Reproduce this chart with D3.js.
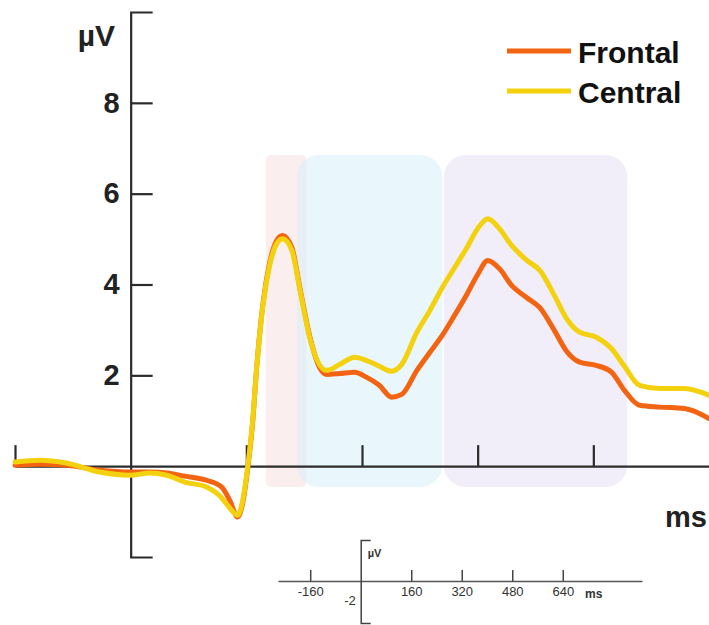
<!DOCTYPE html>
<html>
<head>
<meta charset="utf-8">
<script src="https://cdn.jsdelivr.net/npm/d3@7"></script>
<style>
  body { margin: 0; background: #fff; }
  svg { display: block; }
  text { font-family: Arial, "Liberation Sans", sans-serif; }
</style>
</head>
<body>
<svg width="709" height="625"></svg>
<script>
// ERP waveforms (ms, µV)
const times = [-160, -126, -89, -43, 0, 26, 50, 75, 105, 126, 137, 148, 155, 162, 169, 174, 183, 192, 202, 210,
  223, 234, 248, 261, 271, 289, 310, 326, 344, 361, 375, 396, 414, 431, 448, 465, 480, 494, 510, 527,
  548, 566, 586, 603, 621, 644, 665, 683, 704, 732, 766, 800];

const frontal = [0.02, 0.04, 0.02, -0.09, -0.13, -0.13, -0.15, -0.22, -0.31, -0.46, -0.75, -1.12, -0.81, -0.04, 1.01, 2.11, 3.58, 4.46, 4.97, 5.08,
  4.81, 3.93, 2.84, 2.18, 2.02, 2.04, 2.07, 1.96, 1.78, 1.52, 1.58, 2.11, 2.51, 2.88, 3.32, 3.78, 4.22, 4.53, 4.35, 3.98,
  3.71, 3.49, 2.99, 2.53, 2.29, 2.22, 2.07, 1.67, 1.34, 1.30, 1.27, 1.05];

const central = [0.09, 0.13, 0.07, -0.13, -0.20, -0.15, -0.20, -0.35, -0.46, -0.70, -0.92, -1.08, -0.75, 0.0, 1.05, 2.11, 3.54, 4.40, 4.90, 5.01,
  4.75, 3.89, 2.81, 2.24, 2.11, 2.24, 2.40, 2.33, 2.20, 2.09, 2.24, 2.95, 3.43, 3.93, 4.37, 4.81, 5.23, 5.45, 5.23, 4.86,
  4.53, 4.31, 3.76, 3.25, 2.95, 2.84, 2.59, 2.20, 1.78, 1.71, 1.71, 1.56];

const seriesNames = ["Frontal", "Central"];
const seriesColors = ["#f26411", "#f4d10f"];

const yTicks = [2, 4, 6, 8];
const xTicks = [-160, 160, 320, 480, 640];

// analysis windows (ms) and their vertical extent (µV)
const windowStart = [187, 230, 433];
const windowEnd = [243, 431, 687];
const windowTop = 6.85, windowBottom = -0.46;
const windowColors = ["#fbeeee", "#d3edf9", "#f1eef9"];
const windowOpacity = [1, 0.5, 1];
const windowRadius = [5, 22, 22];

// small reference axis under the plot
const insetTicks = [-160, 160, 320, 480, 640];
const insetYTicks = [-2];

const svg = d3.select("svg");
const plain = d => String(d);

const x = d3.scaleLinear().domain([-160, 800]).range([15, 709]);
const y = d3.scaleLinear().domain([-2, 10]).range([557, 12]);

// shaded windows
const order = [0, 2, 1];
svg.append("g")
  .selectAll("rect")
  .data(order)
  .enter().append("rect")
  .attr("x", i => x(windowStart[i]))
  .attr("width", i => x(windowEnd[i]) - x(windowStart[i]))
  .attr("y", y(windowTop))
  .attr("height", y(windowBottom) - y(windowTop))
  .attr("rx", i => windowRadius[i])
  .attr("fill", i => windowColors[i])
  .attr("fill-opacity", i => windowOpacity[i]);

// y axis with bracket ends
const yAxis = svg.append("g")
  .attr("transform", `translate(${x(0)},0)`)
  .call(d3.axisLeft(y).tickValues(yTicks).tickSizeInner(-22).tickSizeOuter(-22).tickPadding(11));
yAxis.select(".domain").attr("stroke", "#2b2b2b").attr("stroke-width", 2.2);
yAxis.selectAll(".tick line").attr("stroke", "#2b2b2b").attr("stroke-width", 2.2);
yAxis.selectAll(".tick text")
  .attr("fill", "#222")
  .style("font-size", "29px")
  .style("font-weight", "bold")
  .style("font-family", "Arial, 'Liberation Sans', sans-serif");

// x axis, ticks pointing up, no labels
const xAxis = svg.append("g")
  .attr("transform", `translate(0,${y(0)})`)
  .call(d3.axisBottom(x).tickValues(xTicks).tickSizeInner(-21).tickSizeOuter(0).tickFormat(""));
xAxis.select(".domain").attr("stroke", "#2b2b2b").attr("stroke-width", 2.2);
xAxis.selectAll(".tick line").attr("stroke", "#2b2b2b").attr("stroke-width", 2.2);

svg.append("text")
  .attr("x", 115).attr("y", 46)
  .attr("text-anchor", "end")
  .attr("fill", "#222")
  .style("font-size", "30px").style("font-weight", "bold")
  .text("µV");

svg.append("text")
  .attr("x", 707).attr("y", 527)
  .attr("text-anchor", "end")
  .attr("fill", "#222")
  .style("font-size", "29px").style("font-weight", "bold")
  .text("ms");

// waveforms
const line = d3.line()
  .x((d, i) => x(times[i]))
  .y(d => y(d))
  .curve(d3.curveMonotoneX);

svg.append("g")
  .selectAll("path")
  .data([frontal, central])
  .enter().append("path")
  .attr("d", line)
  .attr("fill", "none")
  .attr("stroke", (d, i) => seriesColors[i])
  .attr("stroke-width", 5)
  .attr("stroke-linejoin", "round")
  .attr("stroke-linecap", "round");

// legend
const legend = svg.append("g")
  .selectAll("g")
  .data(seriesNames)
  .enter().append("g")
  .attr("transform", (d, i) => `translate(507,${51 + i * 40})`);

legend.append("line")
  .attr("x1", 0).attr("x2", 64)
  .attr("stroke", (d, i) => seriesColors[i])
  .attr("stroke-width", 5);

legend.append("text")
  .attr("x", 71).attr("y", 12)
  .attr("fill", "#111")
  .style("font-size", "30px").style("font-weight", "bold")
  .text(d => d);

// inset reference axis
const ix = d3.scaleLinear().domain([-262, 891]).range([278, 642]);
const iy = d3.scaleLinear().domain([-3, 0.6]).range([623, 540]);

const insetX = svg.append("g")
  .attr("transform", "translate(0,581)")
  .call(d3.axisBottom(ix).tickValues(insetTicks).tickSizeInner(-11).tickSizeOuter(0).tickPadding(6).tickFormat(plain));
insetX.select(".domain").attr("stroke", "#555").attr("stroke-width", 1.5);
insetX.selectAll(".tick line").attr("stroke", "#444").attr("stroke-width", 1.5);
insetX.selectAll(".tick text")
  .attr("fill", "#333")
  .style("font-size", "13px")
  .style("font-family", "Arial, 'Liberation Sans', sans-serif");

const insetY = svg.append("g")
  .attr("transform", `translate(${ix(0)},0)`)
  .call(d3.axisLeft(iy).tickValues(insetYTicks).tickSizeInner(0).tickSizeOuter(-10).tickPadding(5).tickFormat(plain));
insetY.select(".domain").attr("stroke", "#444").attr("stroke-width", 1.5);
insetY.selectAll(".tick text")
  .attr("fill", "#333")
  .style("font-size", "13px")
  .style("font-family", "Arial, 'Liberation Sans', sans-serif");

svg.append("text")
  .attr("x", ix(0) + 7).attr("y", 557)
  .attr("fill", "#333")
  .style("font-size", "11px").style("font-weight", "bold")
  .text("µV");

svg.append("text")
  .attr("x", 585).attr("y", 598)
  .attr("fill", "#333")
  .style("font-size", "12px").style("font-weight", "bold")
  .text("ms");
</script>
</body>
</html>
